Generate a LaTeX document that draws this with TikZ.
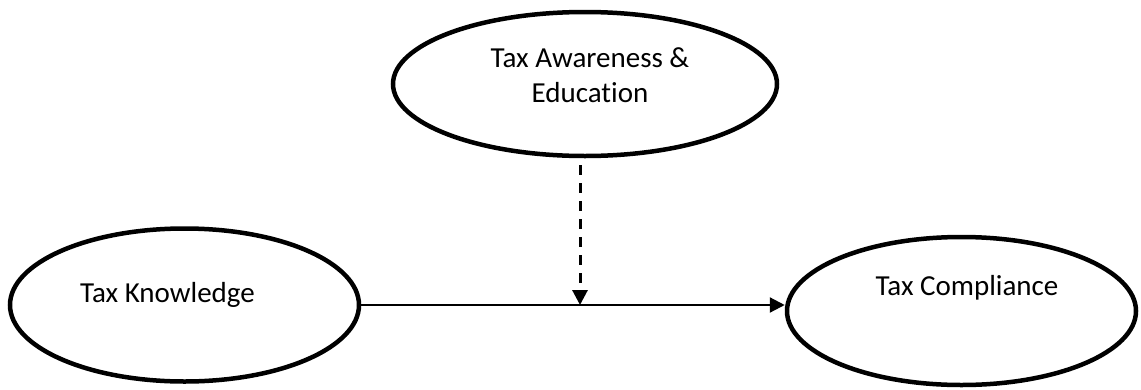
\documentclass[tikz,border=0pt]{standalone}
\usepackage{fontspec}
\setmainfont{Carlito}[Ligatures=NoCommon]
\usetikzlibrary{shapes.geometric,arrows.meta}
\begin{document}
\begin{tikzpicture}[x=1pt,y=-1pt,
  oval/.style={draw, line width=4.5pt, ellipse, inner sep=0pt},
  lbl/.style={font=\fontsize{29}{35}\selectfont, inner sep=0pt, align=center},
  link/.style={line width=2.2pt, -{Triangle[length=15pt,width=15pt]}},
]
\useasboundingbox (0,0) rectangle (1141,389);
\node[oval, minimum width=384pt, minimum height=144pt] (aw) at (585,84) {};
\node[oval, minimum width=349pt, minimum height=153pt] (kn) at (184.5,305) {};
\node[oval, minimum width=349pt, minimum height=148pt] (co) at (961.5,311) {};
\node[lbl] (awt) at (590,75) {Tax Awareness \&\\Education};
\node[lbl, anchor=base] (knt) at (167.5,302) {Tax Knowledge};
\node[lbl, anchor=base] (cot) at (967,295) {Tax Compliance};
\coordinate (m) at (580,305);
\draw[link] (kn.east) -- (co.west |- kn.east);
\draw[link, line width=3pt, dash pattern=on 10pt off 8pt, shorten <=7pt] (aw.south -| m) -- (m);
\end{tikzpicture}
\end{document}
